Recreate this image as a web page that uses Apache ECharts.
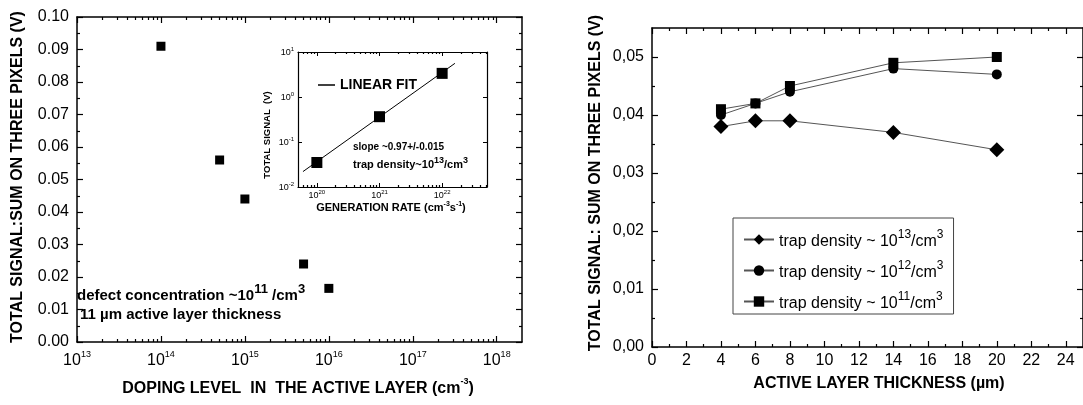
<!DOCTYPE html>
<html><head><meta charset="utf-8">
<script src="https://cdn.jsdelivr.net/npm/echarts@6/dist/echarts.min.js"></script>
<style>html,body{margin:0;padding:0;background:#fff}#c{width:1083px;height:405px}</style>
</head><body><div id="c"></div>
<script>
// ---------- data ----------
const dopingLevels = [1e14, 5e14, 1e15, 5e15, 1e16];
const signalVsDoping = [0.091, 0.056, 0.044, 0.024, 0.0165];
const dopingTicks = [1e13, 1e14, 1e15, 1e16, 1e17, 1e18];

const generationRates = [1e20, 1e21, 1e22];
const signalVsGeneration = [0.035, 0.365, 3.35];
const fitRates = [6e19, 1.6e22];
const fitSignal = [0.022, 5.6];
const generationTicks = [1e20, 1e21, 1e22];
const insetSignalTicks = [0.01, 0.1, 1, 10];

const thickness = [4, 6, 8, 14, 20];
const trap13 = [0.038, 0.039, 0.039, 0.037, 0.034];
const trap12 = [0.040, 0.042, 0.044, 0.048, 0.047];
const trap11 = [0.041, 0.042, 0.045, 0.049, 0.050];
const seriesNames = ['trap density ~ 10^13/cm^3', 'trap density ~ 10^12/cm^3', 'trap density ~ 10^11/cm^3'];
const thicknessTicks = [0, 2, 4, 6, 8, 10, 12, 14, 16, 18, 20, 22, 24];
const thicknessMinorTicks = [1, 3, 5, 7, 9, 11, 13, 15, 17, 19, 21, 23];
const signalTicksRight = [0, 0.01, 0.02, 0.03, 0.04, 0.05];
const signalMinorRight = [0.005, 0.015, 0.025, 0.035, 0.045];
const signalMinorLeft = [0.005, 0.015, 0.025, 0.035, 0.045, 0.055, 0.065, 0.075, 0.085, 0.095];

// ---------- helpers ----------
const FONT = '"Liberation Sans", Arial, Helvetica, sans-serif';
function zip(xs, ys) { return xs.map((x, i) => [x, ys[i]]); }
function logMinor(lo, hi) {
  const out = [];
  for (let e = Math.floor(Math.log10(lo)); e <= Math.ceil(Math.log10(hi)); e++) {
    for (let k = 2; k <= 9; k++) { const v = k * Math.pow(10, e); if (v > lo && v < hi) out.push(v); }
  }
  return out;
}
function supText(t) {
  const parts = t.split(/\^(-?\d+)/);
  let s = '';
  parts.forEach((p, i) => { if (p === '') return; s += (i % 2 === 0) ? '{b|' + p + '}' : '{s|' + p + '}'; });
  return s;
}
function richSup(bSize, sSize, bold, raise) {
  return {
    b: { fontSize: bSize, fontFamily: FONT, fontWeight: bold ? 'bold' : 'normal', color: '#000', verticalAlign: 'bottom', padding: [raise, 0, 0, 0] },
    s: { fontSize: sSize, fontFamily: FONT, fontWeight: bold ? 'bold' : 'normal', color: '#000', verticalAlign: 'top' }
  };
}
const pow10Label = v => '{b|10}{s|' + Math.round(Math.log10(v)) + '}';

const LINE = { color: '#000', width: 1.5 };
function frameAxis(extra) {
  return Object.assign({
    axisLine: { show: true, onZero: false, lineStyle: LINE },
    splitLine: { show: false },
    axisLabel: { show: false },
    axisTick: { show: true, inside: true, length: 6, lineStyle: { color: '#000', width: 1.2 } }
  }, extra);
}
function tickOnly(extra, values, len) {
  return Object.assign({
    axisLine: { show: false, onZero: false },
    splitLine: { show: false },
    axisLabel: { show: false },
    axisTick: { show: true, inside: true, length: len, customValues: values, lineStyle: { color: '#000', width: 1.2 } }
  }, extra);
}

// ---------- axes ----------
const xAxes = [];
const yAxes = [];
// grid 0: left main
const lx = { gridIndex: 0, type: 'log', logBase: 10, min: 1e13, max: 2e18 };
xAxes.push(frameAxis(Object.assign({}, lx, {
  position: 'bottom',
  axisTick: { show: true, inside: true, length: 6, customValues: dopingTicks, lineStyle: { color: '#000', width: 1.2 } },
  axisLabel: { show: true, customValues: dopingTicks, formatter: pow10Label, margin: 8, rich: richSup(16, 9, false, 3) }
})));
xAxes.push(tickOnly(Object.assign({}, lx, { position: 'bottom' }), logMinor(1e13, 2e18), 3));
xAxes.push(frameAxis(Object.assign({}, lx, {
  position: 'top',
  axisTick: { show: true, inside: true, length: 6, customValues: dopingTicks, lineStyle: { color: '#000', width: 1.2 } }
})));
xAxes.push(tickOnly(Object.assign({}, lx, { position: 'top' }), logMinor(1e13, 2e18), 3));
const ly = { gridIndex: 0, type: 'value', min: 0, max: 0.1, interval: 0.01 };
yAxes.push(frameAxis(Object.assign({}, ly, {
  position: 'left',
  axisLabel: { show: true, formatter: v => v.toFixed(2), fontSize: 16, fontFamily: FONT, color: '#000', margin: 8 }
})));
yAxes.push(tickOnly(Object.assign({}, ly, { position: 'left' }), signalMinorLeft, 3));
yAxes.push(frameAxis(Object.assign({}, ly, { position: 'right' })));
yAxes.push(tickOnly(Object.assign({}, ly, { position: 'right' }), signalMinorLeft, 3));

// grid 1: inset
const ix = { gridIndex: 1, type: 'log', logBase: 10, min: 5e19, max: 5.2e22 };
xAxes.push(frameAxis(Object.assign({}, ix, {
  position: 'bottom',
  axisTick: { show: true, inside: true, length: 4, customValues: generationTicks, lineStyle: { color: '#000', width: 1 } },
  axisLine: { show: true, onZero: false, lineStyle: { color: '#000', width: 1.2 } },
  axisLabel: { show: true, customValues: generationTicks, formatter: pow10Label, margin: 2, rich: richSup(9, 6, false, 2) }
})));
xAxes.push(frameAxis(Object.assign({}, ix, {
  position: 'top',
  axisLine: { show: true, onZero: false, lineStyle: { color: '#000', width: 1.2 } },
  axisTick: { show: true, inside: true, length: 4, customValues: generationTicks, lineStyle: { color: '#000', width: 1 } }
})));
xAxes.push(tickOnly(Object.assign({}, ix, { position: 'bottom' }), logMinor(5e19, 5.2e22), 2));
xAxes.push(tickOnly(Object.assign({}, ix, { position: 'top' }), logMinor(5e19, 5.2e22), 2));
const iy = { gridIndex: 1, type: 'log', logBase: 10, min: 0.01, max: 10 };
yAxes.push(frameAxis(Object.assign({}, iy, {
  position: 'left',
  axisLine: { show: true, onZero: false, lineStyle: { color: '#000', width: 1.2 } },
  axisTick: { show: true, inside: true, length: 4, customValues: insetSignalTicks, lineStyle: { color: '#000', width: 1 } },
  axisLabel: { show: true, customValues: insetSignalTicks, formatter: pow10Label, margin: 4, rich: richSup(9, 6, false, 2) }
})));
yAxes.push(frameAxis(Object.assign({}, iy, {
  position: 'right',
  axisLine: { show: true, onZero: false, lineStyle: { color: '#000', width: 1.2 } },
  axisTick: { show: true, inside: true, length: 4, customValues: insetSignalTicks, lineStyle: { color: '#000', width: 1 } }
})));

// grid 2: right chart
const rx = { gridIndex: 2, type: 'value', min: 0, max: 25 };
xAxes.push(frameAxis(Object.assign({}, rx, {
  position: 'bottom',
  axisTick: { show: true, inside: true, length: 6, customValues: thicknessTicks, lineStyle: { color: '#000', width: 1.2 } },
  axisLabel: { show: true, customValues: thicknessTicks, fontSize: 16, fontFamily: FONT, color: '#000', margin: 6 }
})));
xAxes.push(tickOnly(Object.assign({}, rx, { position: 'bottom' }), thicknessMinorTicks, 3));
xAxes.push(frameAxis(Object.assign({}, rx, {
  position: 'top',
  axisTick: { show: true, inside: true, length: 6, customValues: thicknessTicks, lineStyle: { color: '#000', width: 1.2 } }
})));
xAxes.push(tickOnly(Object.assign({}, rx, { position: 'top' }), thicknessMinorTicks, 3));
const ry = { gridIndex: 2, type: 'value', min: 0, max: 0.055 };
yAxes.push(frameAxis(Object.assign({}, ry, {
  position: 'left',
  axisTick: { show: true, inside: true, length: 6, customValues: signalTicksRight, lineStyle: { color: '#000', width: 1.2 } },
  axisLabel: { show: true, customValues: signalTicksRight, formatter: v => v.toFixed(2).replace('.', ','), fontSize: 16, fontFamily: FONT, color: '#000', margin: 8 }
})));
yAxes.push(tickOnly(Object.assign({}, ry, { position: 'left' }), signalMinorRight, 3));
yAxes.push(frameAxis(Object.assign({}, ry, {
  position: 'right',
  axisTick: { show: true, inside: true, length: 6, customValues: signalTicksRight, lineStyle: { color: '#000', width: 1.2 } }
})));
yAxes.push(tickOnly(Object.assign({}, ry, { position: 'right' }), signalMinorRight, 3));

// ---------- series ----------
const BLACK_ITEM = { color: '#000', opacity: 1 };
const series = [
  { name: 'doping', type: 'scatter', xAxisIndex: 0, yAxisIndex: 0, symbol: 'rect', symbolSize: 9,
    itemStyle: BLACK_ITEM, data: zip(dopingLevels, signalVsDoping) },
  { name: 'LINEAR FIT', type: 'line', xAxisIndex: 4, yAxisIndex: 4, symbol: 'none', color: '#000',
    lineStyle: { color: '#000', width: 1 }, itemStyle: BLACK_ITEM, data: zip(fitRates, fitSignal), z: 3 },
  { name: 'generation', type: 'scatter', xAxisIndex: 4, yAxisIndex: 4, symbol: 'rect', symbolSize: 11,
    itemStyle: BLACK_ITEM, data: zip(generationRates, signalVsGeneration), z: 4 },
  { name: seriesNames[0], type: 'line', xAxisIndex: 8, yAxisIndex: 8, symbol: 'diamond', symbolSize: 15,
    lineStyle: { color: '#555', width: 1 }, itemStyle: BLACK_ITEM, data: zip(thickness, trap13) },
  { name: seriesNames[1], type: 'line', xAxisIndex: 8, yAxisIndex: 8, symbol: 'circle', symbolSize: 10,
    lineStyle: { color: '#555', width: 1 }, itemStyle: BLACK_ITEM, data: zip(thickness, trap12) },
  { name: seriesNames[2], type: 'line', xAxisIndex: 8, yAxisIndex: 8, symbol: 'rect', symbolSize: 10,
    lineStyle: { color: '#555', width: 1 }, itemStyle: BLACK_ITEM, data: zip(thickness, trap11) }
];

// ---------- text ----------
function txt(x, y, text, size, opts) {
  opts = opts || {};
  return {
    type: 'text', x: x, y: y, rotation: opts.rot || 0, z: 100,
    style: Object.assign({
      text: text, fontSize: size, fontFamily: FONT, fontWeight: opts.normal ? 'normal' : 'bold', fill: '#000',
      align: opts.align || 'center', verticalAlign: 'middle'
    }, opts.rich ? { rich: opts.rich } : {})
  };
}
const graphics = [
  txt(18, 177, 'TOTAL SIGNAL:SUM ON THREE PIXELS (V)', 16, { rot: Math.PI / 2 }),
  txt(298, 387, supText('DOPING LEVEL  IN  THE ACTIVE LAYER (cm^-3)'), 16, { rich: richSup(16, 9, true, 3) }),
  txt(77, 293, supText('defect concentration ~10^11 /cm^3'), 15, { align: 'left', rich: richSup(15, 13, true, 6) }),
  txt(80, 315, '11 µm active layer thickness', 15, { align: 'left' }),
  txt(353, 147, 'slope ~0.97+/-0.015', 10, { align: 'left' }),
  txt(353, 163, supText('trap density~10^13/cm^3'), 11, { align: 'left', rich: richSup(11, 9, true, 3) }),
  txt(391, 207, supText('GENERATION RATE (cm^-3s^-1)'), 11, { rich: richSup(11, 7, true, 2) }),
  txt(267, 135, 'TOTAL SIGNAL  (V)', 9.5, { rot: Math.PI / 2 }),
  txt(596, 183, 'TOTAL SIGNAL: SUM ON THREE PIXELS (V)', 16, { rot: Math.PI / 2 }),
  txt(879, 384, 'ACTIVE LAYER THICKNESS (µm)', 16)
];

const option = {
  backgroundColor: '#fff',
  animation: false,
  textStyle: { fontFamily: FONT },
  grid: [
    { left: 77, top: 17, width: 445, height: 325 },
    { left: 298, top: 52, width: 189, height: 135 },
    { left: 652, top: 28, width: 432, height: 319 }
  ],
  xAxis: xAxes,
  yAxis: yAxes,
  legend: [
    { data: [{ name: 'LINEAR FIT', icon: 'rect' }], left: 318, top: 78, itemWidth: 17, itemHeight: 1.5, itemGap: 4, padding: 0,
      textStyle: { fontSize: 14, fontWeight: 'bold', fontFamily: FONT, color: '#000' } },
    { data: seriesNames, orient: 'vertical', left: 733, top: 218, itemWidth: 30, itemHeight: 13, itemGap: 10,
      padding: [11, 10, 2, 10], borderColor: '#444', borderWidth: 1, backgroundColor: '#fff',
      formatter: n => supText(n),
      textStyle: { fontSize: 16, fontFamily: FONT, color: '#000', rich: richSup(16, 12, false, 5) } }
  ],
  series: series,
  graphic: graphics
};
const chart = echarts.init(document.getElementById('c'), null, { renderer: 'canvas' });
chart.setOption(option);
</script>
</body></html>
